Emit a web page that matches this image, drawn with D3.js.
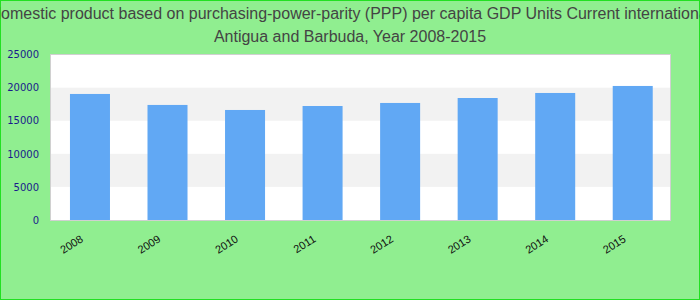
<!DOCTYPE html>
<html>
<head>
<meta charset="utf-8">
<script src="https://cdn.jsdelivr.net/npm/d3@7"></script>
<style>
  html, body { margin: 0; padding: 0; background: #90ee90; }
  svg { display: block; }
</style>
</head>
<body>
<script>
// GDP (PPP) per capita, Antigua and Barbuda
const years = ["2008", "2009", "2010", "2011", "2012", "2013", "2014", "2015"];
const gdpValues = [19050, 17390, 16630, 17230, 17690, 18440, 19200, 20260];
const yTicks = [0, 5000, 10000, 15000, 20000, 25000];
const titleLines = [
  "Gross domestic product based on purchasing-power-parity (PPP) per capita GDP Units Current international dollar",
  "Antigua and Barbuda, Year 2008-2015"
];

const W = 700, H = 300;
const plot = { left: 50.5, right: 670.5, top: 54.5, bottom: 220.5 };

const svg = d3.select("body").append("svg").attr("width", W).attr("height", H);

// page background and outer frame
svg.append("rect").attr("x", 0.5).attr("y", 0.5).attr("width", W - 1).attr("height", H - 1)
  .attr("fill", "#90ee90").attr("stroke", "#22e022").attr("stroke-width", 1);

// title
svg.append("g").selectAll("text").data(titleLines).join("text")
  .attr("x", W / 2).attr("y", (d, i) => 19 + i * 23)
  .attr("text-anchor", "middle")
  .attr("font-family", "'Liberation Sans', Arial, sans-serif")
  .attr("font-size", 16).attr("fill", "#444")
  .text(d => d);

const x = d3.scaleBand().domain(years).range([51.2, 671.5]).paddingInner(0.484).paddingOuter(0.242);
const y = d3.scaleLinear().domain([0, 25000]).range([220, 54.6]);

// plot background with alternating bands
svg.append("rect").attr("x", plot.left).attr("y", plot.top)
  .attr("width", plot.right - plot.left).attr("height", plot.bottom - plot.top).attr("fill", "#fff");
const bands = d3.pairs(yTicks).filter((d, i) => i % 2 === 1);
svg.append("g").selectAll("rect").data(bands).join("rect")
  .attr("x", plot.left).attr("width", plot.right - plot.left)
  .attr("y", d => y(d[1])).attr("height", d => y(d[0]) - y(d[1]))
  .attr("fill", "#f2f2f2");

// bars
svg.append("g").selectAll("rect").data(years).join("rect")
  .attr("x", d => x(d)).attr("width", x.bandwidth())
  .attr("y", (d, i) => y(gdpValues[i]))
  .attr("height", (d, i) => y(0) - y(gdpValues[i]))
  .attr("fill", "#61a8f4");

// plot frame
svg.append("rect").attr("x", plot.left).attr("y", plot.top)
  .attr("width", plot.right - plot.left).attr("height", plot.bottom - plot.top)
  .attr("fill", "none").attr("stroke", "#d0d0d0").attr("stroke-width", 1);

// y axis
const yAxis = svg.append("g").attr("transform", "translate(39,0)")
  .call(d3.axisLeft(y).tickValues(yTicks).tickSize(0).tickPadding(0).tickFormat(d3.format("d")));
yAxis.select(".domain").remove();
yAxis.selectAll("text")
  .attr("font-family", "'DejaVu Sans', Verdana, sans-serif")
  .attr("font-size", 10).attr("fill", "#1a1a8c");

// x axis, rotated labels
const xAxis = svg.append("g").attr("transform", "translate(0,220)")
  .call(d3.axisBottom(x).tickSize(0).tickPadding(0));
xAxis.select(".domain").remove();
xAxis.selectAll("text")
  .attr("font-family", "'Liberation Sans', Arial, sans-serif")
  .attr("font-size", 11).attr("fill", "#111")
  .attr("text-anchor", "end").attr("dy", 0)
  .attr("transform", "translate(-6,21) rotate(-32)");
</script>
</body>
</html>
